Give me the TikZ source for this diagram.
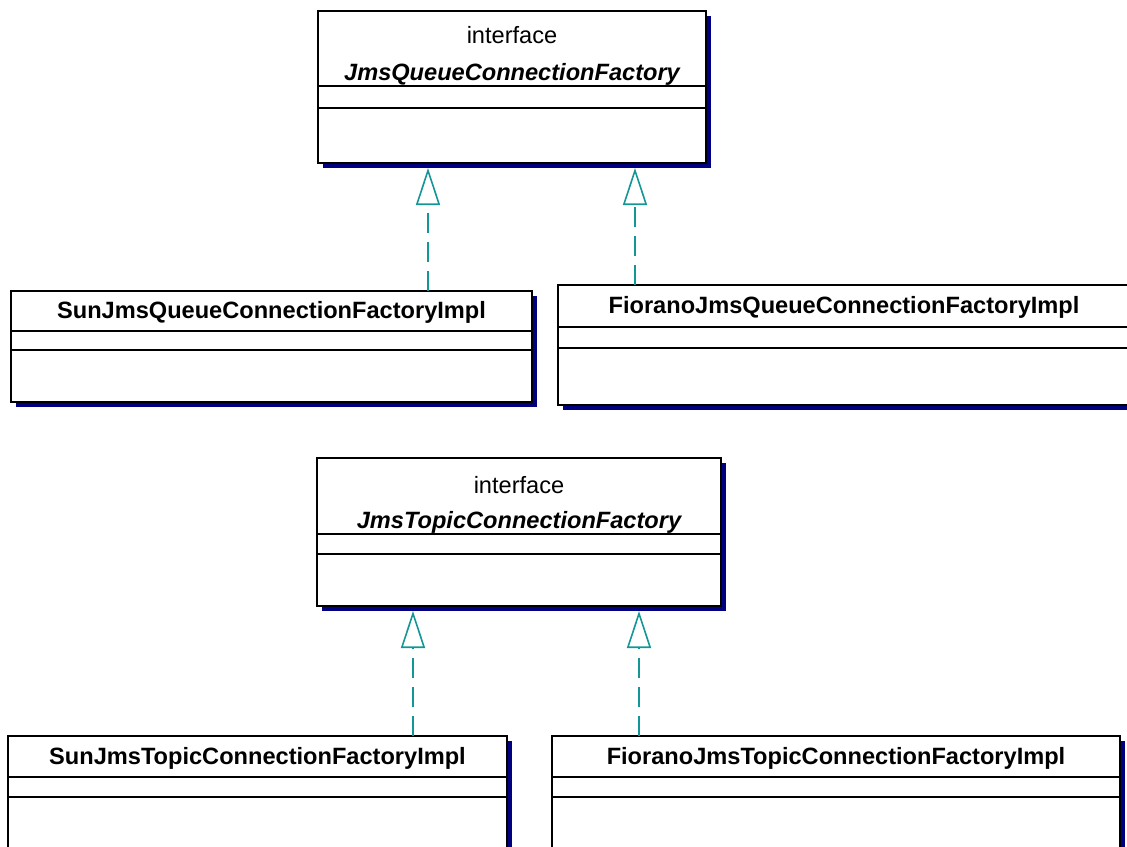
\documentclass[tikz,border=0pt]{standalone}
\usepackage{fontspec}
\setmainfont{Liberation Sans}
\usetikzlibrary{arrows.meta,shadows}
\definecolor{umlnavy}{RGB}{0,0,128}
\definecolor{umlteal}{RGB}{20,150,150}

\begin{document}
\begin{tikzpicture}[x=0.5pt,y=-0.5pt,
  classbox/.style={draw,line width=1pt,fill=white,inner sep=0pt,outer sep=0pt,
    drop shadow={shadow xshift=2.25pt,shadow yshift=-2.25pt,fill=umlnavy,opacity=1}},
  divider/.style={line width=1pt},
  stereotype/.style={font=\fontsize{11.8pt}{14pt}\selectfont,inner sep=0pt},
  ifacename/.style={font=\fontsize{11.8pt}{14pt}\selectfont\bfseries\itshape,inner sep=0pt},
  classname/.style={font=\fontsize{11.8pt}{14pt}\selectfont\bfseries,inner sep=0pt},
  realize/.style={draw=umlteal,line width=0.8pt,dash pattern=on 10pt off 4.5pt,
    -{Triangle[open,length=18.5pt,width=12pt]},shorten >=2.5pt}]
\useasboundingbox (0,0) rectangle (1127,846);
\clip (0,0) rectangle (1127,846);
% queue factories
\node[classbox,minimum width=194pt,minimum height=76pt] (jmsqcf) at (512,87) {};
\node[stereotype] (jmsqst) at (512,35) {interface};
\node[ifacename] (jmsqnm) at (512,74) {JmsQueueConnectionFactory};
\draw[divider] (jmsqcf.west |- 0,86) -- (jmsqcf.east |- 0,86);
\draw[divider] (jmsqcf.west |- 0,108) -- (jmsqcf.east |- 0,108);
\node[classbox,minimum width=260.5pt,minimum height=55.5pt] (sunqcf) at (271.5,346.5) {};
\node[classname] (sunqnm) at (271.5,312) {SunJmsQueueConnectionFactoryImpl};
\draw[divider] (sunqcf.west |- 0,331) -- (sunqcf.east |- 0,331);
\draw[divider] (sunqcf.west |- 0,350) -- (sunqcf.east |- 0,350);
\node[classbox,minimum width=286pt,minimum height=60pt] (fioqcf) at (844,345) {};
\node[classname] (fioqnm) at (844,307) {FioranoJmsQueueConnectionFactoryImpl};
\draw[divider] (fioqcf.west |- 0,327) -- (fioqcf.east |- 0,327);
\draw[divider] (fioqcf.west |- 0,348) -- (fioqcf.east |- 0,348);
% topic factories
\node[classbox,minimum width=202pt,minimum height=74pt] (jmstcf) at (519,532) {};
\node[stereotype] (jmstst) at (519,485) {interface};
\node[ifacename] (jmstnm) at (519,522) {JmsTopicConnectionFactory};
\draw[divider] (jmstcf.west |- 0,534) -- (jmstcf.east |- 0,534);
\draw[divider] (jmstcf.west |- 0,554) -- (jmstcf.east |- 0,554);
\node[classbox,minimum width=249.5pt,minimum height=60pt] (suntcf) at (257.5,796) {};
\node[classname] (suntnm) at (257.5,758) {SunJmsTopicConnectionFactoryImpl};
\draw[divider] (suntcf.west |- 0,777) -- (suntcf.east |- 0,777);
\draw[divider] (suntcf.west |- 0,797) -- (suntcf.east |- 0,797);
\node[classbox,minimum width=284pt,minimum height=60pt] (fiotcf) at (836,796) {};
\node[classname] (fiotnm) at (836,758) {FioranoJmsTopicConnectionFactoryImpl};
\draw[divider] (fiotcf.west |- 0,777) -- (fiotcf.east |- 0,777);
\draw[divider] (fiotcf.west |- 0,797) -- (fiotcf.east |- 0,797);
% realizations
\coordinate (sunqx) at (428,0);
\coordinate (fioqx) at (635,0);
\coordinate (suntx) at (413,0);
\coordinate (fiotx) at (639,0);
\draw[realize] (sunqcf.north -| sunqx) -- (jmsqcf.south -| sunqx);
\draw[realize] (fioqcf.north -| fioqx) -- (jmsqcf.south -| fioqx);
\draw[realize] (suntcf.north -| suntx) -- (jmstcf.south -| suntx);
\draw[realize] (fiotcf.north -| fiotx) -- (jmstcf.south -| fiotx);
\end{tikzpicture}
\end{document}
